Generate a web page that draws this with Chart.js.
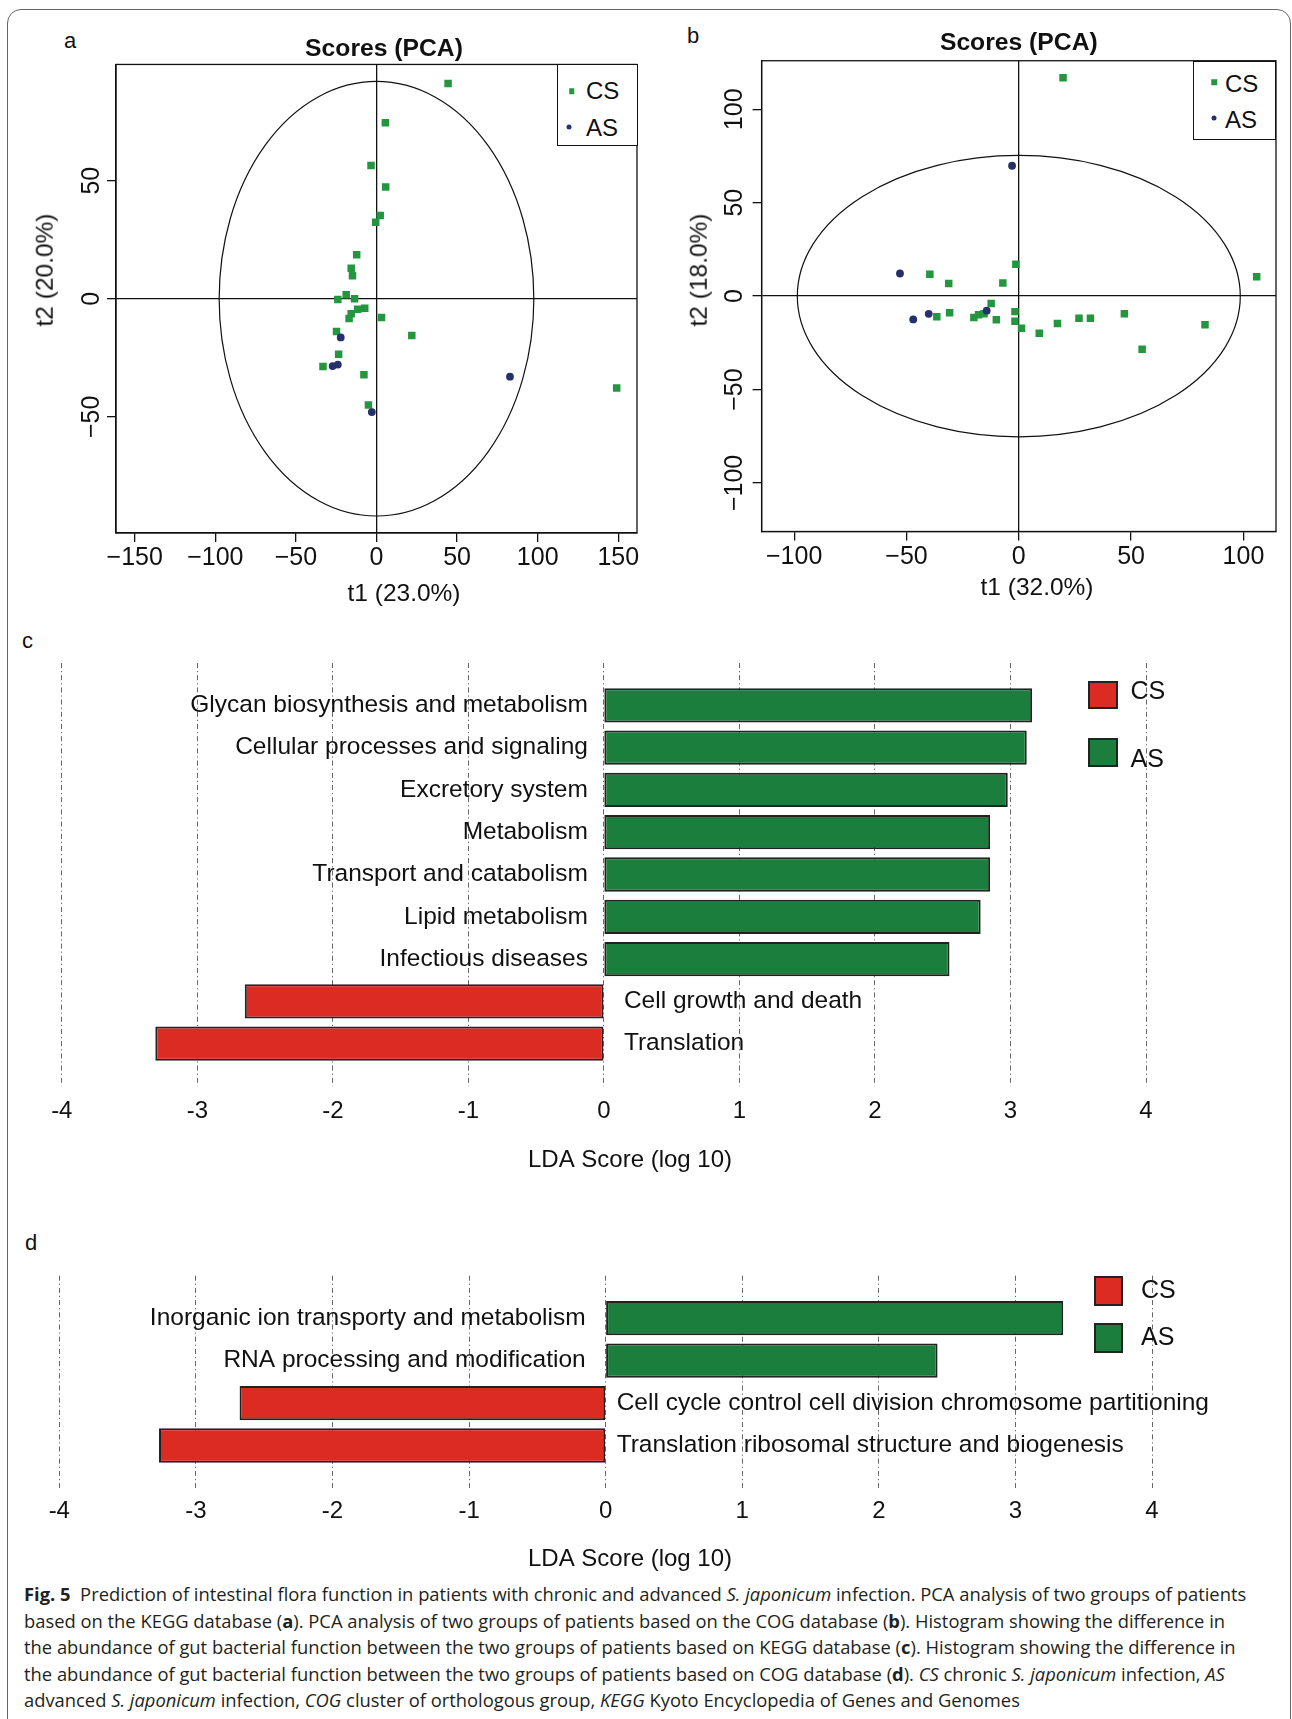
<!DOCTYPE html>
<html>
<head>
<meta charset="utf-8">
<title>Fig. 5 – Intestinal flora function prediction</title>
<script src="https://cdn.jsdelivr.net/npm/chart.js@4.4.1/dist/chart.umd.min.js"></script>
<style>
  html, body { margin: 0; padding: 0; background: #fff; }
  body { width: 1292px; height: 1719px; position: relative; overflow: hidden;
         font-family: "Liberation Sans", Arial, Helvetica, sans-serif; color: #111; }
  .frame { position: absolute; left: 7px; top: 9px; width: 1284px; height: 1800px;
           border: 1.5px solid #666; border-radius: 14px; box-sizing: border-box; }
  .panel { position: absolute; }
  .panel canvas { display: block; }
  .tag { position: absolute; font-size: 22px; line-height: 22px; transform: translateY(-50%); }
  .axtitle { position: absolute; font-size: 24.5px; line-height: 1; white-space: nowrap;
             transform: translate(-50%, -50%); }
  .axtitle.rot { transform: translate(-50%, -50%) rotate(-90deg); }
  .pcaLegend { position: absolute; border: 1.3px solid #111; box-sizing: border-box; background: #fff; }
  .pcaLegend .row { position: absolute; left: 0; font-size: 24px; line-height: 1; transform: translateY(-50%); white-space: nowrap; }
  .pcaLegend .mk { position: absolute; transform: translate(-50%, -50%); }
  .ldaLegend .sw { position: absolute; border: 2px solid #222; box-sizing: border-box; }
  .ldaLegend .tx { position: absolute; font-size: 25px; line-height: 1; transform: translateY(-50%); }
  #caption { position: absolute; left: 24px; top: 1581px; font-family: "Open Sans", "Noto Sans", sans-serif;
             color: #231f20; font-size: 16px; white-space: nowrap; }
  #caption div { height: 26.6px; line-height: 26.6px; }
  #caption b { font-weight: 700; }
</style>
</head>
<body>
<div class="frame"></div>

<div class="tag" style="left:64px;top:41px;">a</div>
<div class="tag" style="left:687px;top:36px;">b</div>
<div class="tag" style="left:22px;top:641px;">c</div>
<div class="tag" style="left:25px;top:1243px;">d</div>

<div class="panel" style="left:0;top:0;"><canvas id="pcaKegg" width="768" height="620"></canvas></div>
<div class="panel" style="left:660px;top:0;"><canvas id="pcaCog" width="632" height="620"></canvas></div>
<div class="panel" style="left:0;top:620px;"><canvas id="ldaKegg" width="1260" height="560"></canvas></div>
<div class="panel" style="left:0;top:1180px;"><canvas id="ldaCog" width="1260" height="400"></canvas></div>

<div class="axtitle" style="left:404px;top:593px;">t1 (23.0%)</div>
<div class="axtitle rot" style="left:45px;top:270px;">t2 (20.0%)</div>
<div class="axtitle" style="left:1037px;top:587px;">t1 (32.0%)</div>
<div class="axtitle rot" style="left:699px;top:270px;">t2 (18.0%)</div>

<div id="legends"></div>

<div id="caption">
  <div class="l1"><b>Fig. 5</b>&nbsp; Prediction of intestinal flora function in patients with chronic and advanced <i>S. japonicum</i> infection. PCA analysis of two groups of patients</div>
  <div>based on the KEGG database (<b>a</b>). PCA analysis of two groups of patients based on the COG database (<b>b</b>). Histogram showing the difference in</div>
  <div>the abundance of gut bacterial function between the two groups of patients based on KEGG database (<b>c</b>). Histogram showing the difference in</div>
  <div>the abundance of gut bacterial function between the two groups of patients based on COG database (<b>d</b>). <i>CS</i> chronic <i>S. japonicum</i> infection, <i>AS</i></div>
  <div>advanced <i>S. japonicum</i> infection, <i>COG</i> cluster of orthologous group, <i>KEGG</i> Kyoto Encyclopedia of Genes and Genomes</div>
</div>

<script>
// ---------- data ----------
// PCA scores, KEGG-based profile (panel a)
const keggCS_t1 = [44.4, 5.5, -3.4, 5.7, 2.3, -0.5, -12.3, -15.7, -14.9, -24.0, -18.8, -13.6,
                   -7.3, -11.7, -15.7, -17.0, 3.1, 21.9, -24.8, -23.5, -33.2, -7.8, -5.0, 149.0];
const keggCS_t2 = [91.1, 74.5, 56.4, 47.3, 35.2, 32.4, 18.6, 12.9, 9.7, -0.3, 1.7, 0.0,
                   -4.0, -4.5, -6.4, -8.4, -7.9, -15.6, -13.9, -23.5, -28.7, -32.2, -45.0, -37.8];
const keggAS_t1 = [-22.2, -27.2, -24.0, 82.8, -2.9];
const keggAS_t2 = [-16.4, -28.5, -27.9, -33.0, -48.0];
const keggEllipse = { rx: 97.6, ry: 92.0 };   // Hotelling T2 95% ellipse half-axes
const keggTicksT1 = [-150, -100, -50, 0, 50, 100, 150];
const keggTicksT2 = [-50, 0, 50];

// PCA scores, COG-based profile (panel b)
const cogCS_t1 = [19.7, 105.9, -1.3, -39.6, -31.2, -7.1, -12.3, -1.7, -30.8, -36.5, -20.0, -17.9,
                  -15.5, -10.0, -1.7, 1.2, 9.1, 17.2, 26.8, 31.9, 47.0, 54.9, 82.9];
const cogCS_t2 = [116.9, 10.4, 17.0, 11.7, 6.8, 7.0, -4.0, -8.3, -8.9, -11.0, -11.5, -10.0,
                  -9.5, -12.7, -13.4, -17.2, -19.9, -14.6, -11.9, -11.9, -9.5, -28.4, -15.3];
const cogAS_t1 = [-3.0, -52.9, -47.0, -40.1, -14.3];
const cogAS_t2 = [69.8, 12.1, -12.5, -9.5, -7.8];
const cogEllipse = { rx: 98.6, ry: 75.3 };
const cogTicksT1 = [-100, -50, 0, 50, 100];
const cogTicksT2 = [-100, -50, 0, 50, 100];

// LEfSe LDA scores, KEGG pathways (panel c)
const keggTerms = ['Glycan biosynthesis and metabolism', 'Cellular processes and signaling',
                   'Excretory system', 'Metabolism', 'Transport and catabolism', 'Lipid metabolism',
                   'Infectious diseases', 'Cell growth and death', 'Translation'];
const keggLDA   = [3.16, 3.12, 2.98, 2.85, 2.85, 2.78, 2.55, -2.65, -3.31];
const keggClass = ['AS', 'AS', 'AS', 'AS', 'AS', 'AS', 'AS', 'CS', 'CS'];

// LEfSe LDA scores, COG categories (panel d)
const cogTerms = ['Inorganic ion transporty and metabolism', 'RNA processing and modification',
                  'Cell cycle control cell division chromosome partitioning',
                  'Translation ribosomal structure and biogenesis'];
const cogLDA   = [3.35, 2.43, -2.68, -3.27];
const cogClass = ['AS', 'AS', 'CS', 'CS'];

const groups = ['CS', 'AS'];

// ---------- styling ----------
const FONT = '"Liberation Sans", Arial, Helvetica, sans-serif';
const pointColor = { CS: '#23963f', AS: '#26306b' };
const barColor = { CS: '#db2b22', AS: '#1b7e3d' };

Chart.defaults.font.family = FONT;
Chart.defaults.color = '#111';
Chart.defaults.animation = false;
Chart.defaults.responsive = false;
Chart.defaults.devicePixelRatio = 1;
Chart.defaults.plugins.legend.display = false;
Chart.defaults.plugins.tooltip.enabled = false;

const minus = v => String(v).replace('-', '\u2212');

// an empty axis that only reserves room beside the plotting region
const spacerAxis = (position, width) => ({
  type: 'linear', position, axis: 'y', display: true,
  afterFit: s => { s.width = width; },
  ticks: { display: false }, grid: { display: false }, border: { display: false }
});

// score ellipse, scaled through the chart's axes
const ellipsePlugin = {
  id: 'scoreEllipse',
  beforeDatasetsDraw(chart, args, opts) {
    const { x, y } = chart.scales, ctx = chart.ctx;
    const cx = x.getPixelForValue(0), cy = y.getPixelForValue(0);
    const rx = Math.abs(x.getPixelForValue(opts.rx) - cx);
    const ry = Math.abs(y.getPixelForValue(opts.ry) - cy);
    ctx.save();
    ctx.beginPath();
    ctx.ellipse(cx, cy, rx, ry, 0, 0, Math.PI * 2);
    ctx.lineWidth = 1.2;
    ctx.strokeStyle = '#111';
    ctx.stroke();
    ctx.restore();
  }
};

// closed box around the plotting region
const framePlugin = {
  id: 'plotFrame',
  afterDraw(chart) {
    const a = chart.chartArea, ctx = chart.ctx;
    ctx.save();
    ctx.lineWidth = 1.3;
    ctx.strokeStyle = '#111';
    ctx.strokeRect(a.left, a.top, a.right - a.left, a.bottom - a.top);
    ctx.restore();
  }
};

// feature names printed beside each LDA bar
const termLabelPlugin = {
  id: 'termLabels',
  afterDatasetsDraw(chart, args, opts) {
    const { x, y } = chart.scales, ctx = chart.ctx;
    const x0 = x.getPixelForValue(0);
    ctx.save();
    ctx.font = opts.size + 'px ' + FONT;
    ctx.fillStyle = '#111';
    ctx.textBaseline = 'middle';
    opts.terms.forEach((t, i) => {
      const py = y.getPixelForValue(i);
      if (opts.values[i] >= 0) { ctx.textAlign = 'right'; ctx.fillText(t, x0 - opts.gapLeft, py); }
      else { ctx.textAlign = 'left'; ctx.fillText(t, x0 + opts.gapRight, py); }
    });
    ctx.restore();
  }
};

function pcaChart(id, cfg) {
  const sets = groups.map(g => ({
    label: g,
    data: cfg.t1[g].map((v, i) => ({ x: v, y: cfg.t2[g][i] })),
    pointStyle: g === 'CS' ? 'rect' : 'circle',
    pointRadius: g === 'CS' ? 5.3 : 3.9,
    backgroundColor: pointColor[g],
    borderWidth: 0,
    order: g === 'CS' ? 2 : 1
  }));
  const zeroLine = ctx => (ctx.tick && ctx.tick.value === 0) ? '#111' : 'rgba(0,0,0,0)';
  const scales = {
    x: {
      type: 'linear', min: cfg.xLim[0], max: cfg.xLim[1],
      afterFit: s => { s.height = cfg.xHeight; },
      afterBuildTicks: s => { s.ticks = cfg.xTicks.map(v => ({ value: v })); },
      ticks: { autoSkip: false, maxRotation: 0, padding: cfg.xPad, font: { size: 25 },
               color: '#111', callback: minus },
      grid: { color: zeroLine, tickColor: '#111', tickLength: 9, lineWidth: 1.3 },
      border: { display: true, color: '#111', width: 1.3 }
    },
    y: {
      type: 'linear', min: cfg.yLim[0], max: cfg.yLim[1],
      afterFit: s => { s.width = cfg.yWidth; },
      afterBuildTicks: s => { s.ticks = cfg.yTicks.map(v => ({ value: v })); },
      ticks: { autoSkip: false, minRotation: 90, maxRotation: 90, crossAlign: 'center',
               padding: cfg.yPad, font: { size: 25 }, color: '#111', callback: minus },
      grid: { color: zeroLine, tickColor: '#111', tickLength: 9, lineWidth: 1.3 },
      border: { display: true, color: '#111', width: 1.3 }
    }
  };
  if (cfg.rightSpace) scales.yRightSpace = spacerAxis('right', cfg.rightSpace);
  return new Chart(document.getElementById(id), {
    type: 'scatter',
    data: { datasets: sets },
    options: {
      layout: { padding: { left: 0, right: cfg.padRight, top: 0, bottom: 0 } },
      plugins: {
        title: { display: true, text: 'Scores (PCA)', color: '#111', fullSize: cfg.titleFull,
                 font: { size: 24.7, weight: 'bold' }, padding: cfg.titlePad },
        scoreEllipse: cfg.ellipse
      },
      scales
    },
    plugins: [ellipsePlugin, framePlugin]
  });
}

function ldaChart(id, cfg) {
  const sets = groups.map(g => ({
    label: g,
    data: cfg.terms.map((t, i) => ({ x: cfg.values[i], y: i })).filter((p, i) => cfg.cls[i] === g),
    backgroundColor: barColor[g],
    borderColor: '#222',
    borderWidth: 2,
    borderSkipped: false,
    grouped: false,
    categoryPercentage: 1,
    barPercentage: 0.81
  }));
  return new Chart(document.getElementById(id), {
    type: 'bar',
    data: { datasets: sets },
    options: {
      indexAxis: 'y',
      layout: { padding: { left: 0, right: 0, top: cfg.padTop, bottom: 0 } },
      plugins: {
        title: { display: true, position: 'bottom', text: 'LDA Score (log 10)', color: '#111',
                 font: { size: 24, weight: 'normal' }, padding: { top: 0, bottom: cfg.titleBottom } },
        termLabels: { terms: cfg.terms, values: cfg.values, size: 24.5,
                      gapLeft: cfg.gapLeft, gapRight: cfg.gapRight }
      },
      scales: {
        x: {
          type: 'linear', min: -4, max: 4, z: 1,
          afterFit: s => { s.height = cfg.xHeight; },
          ticks: { stepSize: 1, autoSkip: false, maxRotation: 0, padding: cfg.xPad,
                   font: { size: 24 }, color: '#111' },
          grid: { color: '#555', lineWidth: 0.9, drawTicks: false },
          border: { display: false, dash: [5, 3, 1.2, 3] }
        },
        y: {
          type: 'linear', min: -1, max: cfg.terms.length, reverse: true, offset: false,
          display: true, afterFit: s => { s.width = cfg.leftSpace; },
          ticks: { display: false, stepSize: 1 }, grid: { display: false, offset: false },
          border: { display: false }
        },
        yRightSpace: spacerAxis('right', cfg.rightSpace)
      }
    },
    plugins: [termLabelPlugin]
  });
}

const chartA = pcaChart('pcaKegg', {
  t1: { CS: keggCS_t1, AS: keggAS_t1 }, t2: { CS: keggCS_t2, AS: keggAS_t2 },
  xLim: [-161.6, 161.6], yLim: [-99.2, 99.2], xTicks: keggTicksT1, yTicks: keggTicksT2,
  ellipse: keggEllipse, padRight: 0, rightSpace: 131,
  titleFull: true, titlePad: { top: 34.8, bottom: 0 },
  xHeight: 87, yWidth: 116, xPad: 1.0, yPad: -6.7
});
const chartB = pcaChart('pcaCog', {
  t1: { CS: cogCS_t1, AS: cogAS_t1 }, t2: { CS: cogCS_t2, AS: cogAS_t2 },
  xLim: [-114.5, 114.5], yLim: [-126, 126], xTicks: cogTicksT1, yTicks: cogTicksT2,
  ellipse: cogEllipse, padRight: 16, rightSpace: 0,
  titleFull: false, titlePad: { top: 28.7, bottom: 2.4 },
  xHeight: 88.5, yWidth: 101.6, xPad: 1.5, yPad: -10.4
});
const chartC = ldaChart('ldaKegg', {
  terms: keggTerms, values: keggLDA, cls: keggClass,
  leftSpace: 61.8, rightSpace: 114, padTop: 43, xHeight: 60.2, xPad: 10.6, titleBottom: 5,
  gapLeft: 16, gapRight: 20
});
const chartD = ldaChart('ldaCog', {
  terms: cogTerms, values: cogLDA, cls: cogClass,
  leftSpace: 59.3, rightSpace: 108, padTop: 95.7, xHeight: 57.2, xPad: 9.3, titleBottom: 6,
  gapLeft: 20, gapRight: 11
});

// ---------- legends (built from the chart datasets) ----------
const legendRoot = document.getElementById('legends');

function pcaLegend(chart, box, rows) {
  const el = document.createElement('div');
  el.className = 'pcaLegend';
  Object.assign(el.style, { left: box.left + 'px', top: box.top + 'px',
                            width: box.width + 'px', height: box.height + 'px' });
  chart.data.datasets.forEach((ds, i) => {
    const r = rows[i];
    const mk = document.createElement('div');
    mk.className = 'mk';
    const s = ds.pointStyle === 'rect' ? 5.5 : 5;
    Object.assign(mk.style, { left: r.mx + 'px', top: r.my + 'px', width: s + 'px', height: s + 'px',
      background: ds.backgroundColor, borderRadius: ds.pointStyle === 'rect' ? '0' : '50%' });
    const tx = document.createElement('div');
    tx.className = 'row';
    tx.textContent = ds.label;
    Object.assign(tx.style, { left: r.tx + 'px', top: r.ty + 'px' });
    el.appendChild(mk); el.appendChild(tx);
  });
  legendRoot.appendChild(el);
}

function ldaLegend(chart, rows) {
  const el = document.createElement('div');
  el.className = 'ldaLegend';
  chart.data.datasets.forEach((ds, i) => {
    const r = rows[i];
    const sw = document.createElement('div');
    sw.className = 'sw';
    Object.assign(sw.style, { left: r.x + 'px', top: r.y + 'px', width: r.w + 'px', height: r.h + 'px',
                              background: ds.backgroundColor });
    const tx = document.createElement('div');
    tx.className = 'tx';
    tx.textContent = ds.label;
    Object.assign(tx.style, { left: r.tx + 'px', top: r.ty + 'px' });
    el.appendChild(sw); el.appendChild(tx);
  });
  legendRoot.appendChild(el);
}

pcaLegend(chartA, { left: 557, top: 64, width: 80.5, height: 82 },
  [{ mx: 13.5, my: 26, tx: 28, ty: 26 }, { mx: 10.5, my: 61.5, tx: 28, ty: 63 }]);
pcaLegend(chartB, { left: 1193, top: 60.5, width: 83, height: 79 },
  [{ mx: 20, my: 20.5, tx: 31, ty: 22.5 }, { mx: 20, my: 56, tx: 31, ty: 58.5 }]);
ldaLegend(chartC, [
  { x: 1087.5, y: 680.5, w: 30, h: 28, tx: 1130.5, ty: 690 },
  { x: 1087.5, y: 738, w: 30, h: 29, tx: 1130.5, ty: 758 }]);
ldaLegend(chartD, [
  { x: 1093.5, y: 1275.5, w: 29, h: 30, tx: 1141, ty: 1289 },
  { x: 1093.5, y: 1323, w: 29, h: 29.5, tx: 1141, ty: 1336 }]);

// caption: scale type so the first line spans the full text block
(function fitCaption() {
  const cap = document.getElementById('caption');
  const first = cap.querySelector('.l1');
  const probe = document.createElement('span');
  probe.innerHTML = first.innerHTML;
  probe.style.whiteSpace = 'nowrap';
  cap.appendChild(probe);
  const pw = probe.getBoundingClientRect().width;
  cap.removeChild(probe);
  if (pw > 0) cap.style.fontSize = (16 * 1223 / pw) + 'px';
})();
</script>
</body>
</html>
